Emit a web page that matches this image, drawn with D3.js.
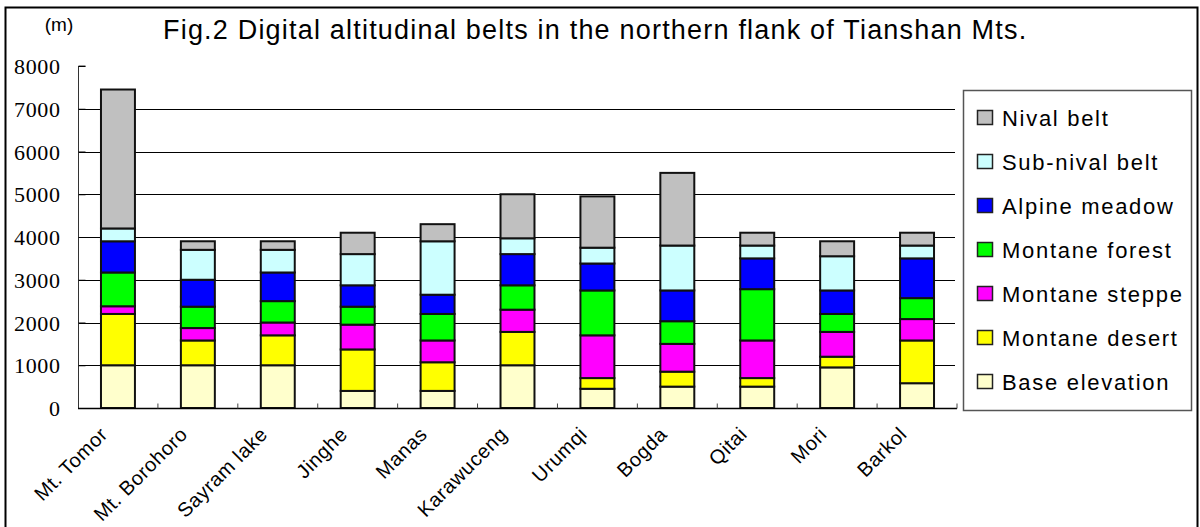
<!DOCTYPE html>
<html>
<head>
<meta charset="utf-8">
<script src="https://cdn.jsdelivr.net/npm/d3@7/dist/d3.min.js"></script>
<style>
  html, body { margin: 0; padding: 0; background: #fff; }
  svg { display: block; }
</style>
</head>
<body>
<svg id="chart" width="1200" height="527"></svg>
<script>
// Sites along the northern flank of the Tianshan, west to east
const categories = ["Mt. Tomor", "Mt. Borohoro", "Sayram lake", "Jinghe", "Manas",
  "Karawuceng", "Urumqi", "Bogda", "Qitai", "Mori", "Barkol"];

// Thickness of each belt (m), stacked from the base elevation upward
const baseElevation = [1000, 1000, 1000, 400, 400, 1000, 450, 500, 500, 950, 580];
const montaneDesert = [1200, 580, 700, 970, 670, 780, 250, 350, 200, 250, 1000];
const montaneSteppe = [180, 290, 300, 580, 510, 520, 1000, 650, 880, 580, 500];
const montaneForest = [790, 500, 500, 420, 620, 570, 1050, 530, 1200, 420, 490];
const alpineMeadow  = [730, 630, 670, 500, 450, 730, 630, 720, 720, 550, 930];
const subNivalBelt  = [300, 700, 530, 730, 1250, 370, 370, 1050, 300, 800, 300];
const nivalBelt     = [3250, 200, 200, 500, 400, 1030, 1200, 1700, 300, 350, 300];

const seriesNames = ["Base elevation", "Montane desert", "Montane steppe", "Montane forest",
  "Alpine meadow", "Sub-nival belt", "Nival belt"];
const seriesValues = [baseElevation, montaneDesert, montaneSteppe, montaneForest,
  alpineMeadow, subNivalBelt, nivalBelt];
const seriesColors = ["#FFFFCC", "#FFFF00", "#FF00FF", "#00FF00", "#0000FF", "#CCFFFF", "#C0C0C0"];

const yTicks = [0, 1000, 2000, 3000, 4000, 5000, 6000, 7000, 8000];

const svg = d3.select("#chart");

// Outer frame
svg.append("rect")
  .attr("x", 5.5).attr("y", 7.5)
  .attr("width", 1192).attr("height", 540)
  .attr("fill", "none").attr("stroke", "#000").attr("stroke-width", 2);

const plot = { left: 78, right: 957, top: 66, bottom: 408 };

const x = d3.scaleBand()
  .domain(categories)
  .range([plot.left, plot.right])
  .paddingInner(0.575).paddingOuter(0.2875);

const y = d3.scaleLinear()
  .domain([0, 8000])
  .range([plot.bottom, plot.top]);

// Horizontal gridlines
svg.append("g")
  .selectAll("line")
  .data(yTicks.filter(t => t > 0 && t < 8000))
  .join("line")
  .attr("x1", plot.left).attr("x2", plot.right - 2)
  .attr("y1", d => Math.round(y(d)) + 0.5).attr("y2", d => Math.round(y(d)) + 0.5)
  .attr("stroke", "#000").attr("stroke-width", 1);

// Stacked rows
const rows = categories.map((c, i) => {
  const r = { site: c };
  seriesNames.forEach((n, k) => { r[n] = seriesValues[k][i]; });
  return r;
});
const stacked = d3.stack().keys(seriesNames)(rows);

const layers = svg.append("g")
  .selectAll("g")
  .data(stacked)
  .join("g")
  .attr("fill", (d, i) => seriesColors[i]);

layers.selectAll("rect")
  .data(d => d)
  .join("rect")
  .attr("x", d => x(d.data.site))
  .attr("width", x.bandwidth())
  .attr("y", d => y(d[1]))
  .attr("height", d => y(d[0]) - y(d[1]))
  .attr("stroke", "#111")
  .attr("stroke-width", 2);

// Y axis: ticks drawn inward, serif labels
const yAxis = d3.axisRight(y).tickValues(yTicks).tickSize(7).tickFormat(d3.format("d"));
const yg = svg.append("g")
  .attr("transform", `translate(${plot.left + 0.5},0)`)
  .call(yAxis);
yg.select(".domain").attr("stroke", "#333").attr("stroke-width", 1)
  .attr("d", `M7,${plot.top}H0V${plot.bottom}`);
yg.selectAll(".tick line").attr("stroke", "#000");
yg.selectAll(".tick text")
  .attr("x", -18)
  .attr("dy", "0.35em")
  .attr("text-anchor", "end")
  .attr("fill", "#000")
  .style("font-family", "'Liberation Serif', 'DejaVu Serif', serif")
  .style("font-size", "22px")
  .style("letter-spacing", "0.6px");

// X axis with category separators pointing up
const xg = svg.append("g")
  .attr("transform", `translate(0,${plot.bottom + 0.5})`);
xg.append("line")
  .attr("x1", plot.left).attr("x2", plot.right)
  .attr("stroke", "#000").attr("stroke-width", 1.5);
const step = x.step();
const separators = d3.range(categories.length + 1).map(i => plot.left + i * step);
xg.selectAll("line.sep")
  .data(separators.slice(1))
  .join("line")
  .attr("class", "sep")
  .attr("x1", d => d).attr("x2", d => d)
  .attr("y1", 0).attr("y2", -5)
  .attr("stroke", "#444").attr("stroke-width", 1);

xg.selectAll("text")
  .data(categories)
  .join("text")
  .attr("transform", d => `translate(${x(d) + x.bandwidth() / 2 - 9},${27}) rotate(-45)`)
  .attr("text-anchor", "end")
  .attr("fill", "#000")
  .style("font-family", "Arial, 'Liberation Sans', sans-serif")
  .style("font-size", "20px")
  .style("letter-spacing", "0.6px")
  .text(d => d);

// Unit label and title
svg.append("text")
  .attr("x", 59).attr("y", 31)
  .attr("text-anchor", "middle")
  .style("font-family", "Arial, 'Liberation Sans', sans-serif")
  .style("font-size", "19px")
  .text("(m)");

svg.append("text")
  .attr("x", 163).attr("y", 39)
  .style("font-family", "Arial, 'Liberation Sans', sans-serif")
  .style("font-size", "27px")
  .style("letter-spacing", "1.2px")
  .text("Fig.2 Digital altitudinal belts in the northern flank of Tianshan Mts.");

// Legend, top entry is the highest belt
const legend = { x: 963, y: 90, w: 228, h: 320, firstRow: 118, rowStep: 44 };
svg.append("rect")
  .attr("x", legend.x + 0.5).attr("y", legend.y + 0.5)
  .attr("width", legend.w).attr("height", legend.h)
  .attr("fill", "#fff").attr("stroke", "#555").attr("stroke-width", 1.5);

const legendItems = seriesNames.map((n, i) => ({ name: n, color: seriesColors[i] })).reverse();
const li = svg.append("g")
  .selectAll("g")
  .data(legendItems)
  .join("g")
  .attr("transform", (d, i) => `translate(${legend.x + 14},${legend.firstRow + i * legend.rowStep})`);
li.append("rect")
  .attr("x", 0.5).attr("y", -7.5)
  .attr("width", 15).attr("height", 14)
  .attr("fill", d => d.color)
  .attr("stroke", "#222").attr("stroke-width", 1.5);
li.append("text")
  .attr("x", 25).attr("y", 0)
  .attr("dy", "0.36em")
  .style("font-family", "Arial, 'Liberation Sans', sans-serif")
  .style("font-size", "22px")
  .style("letter-spacing", "1.7px")
  .text(d => d.name);
</script>
</body>
</html>
